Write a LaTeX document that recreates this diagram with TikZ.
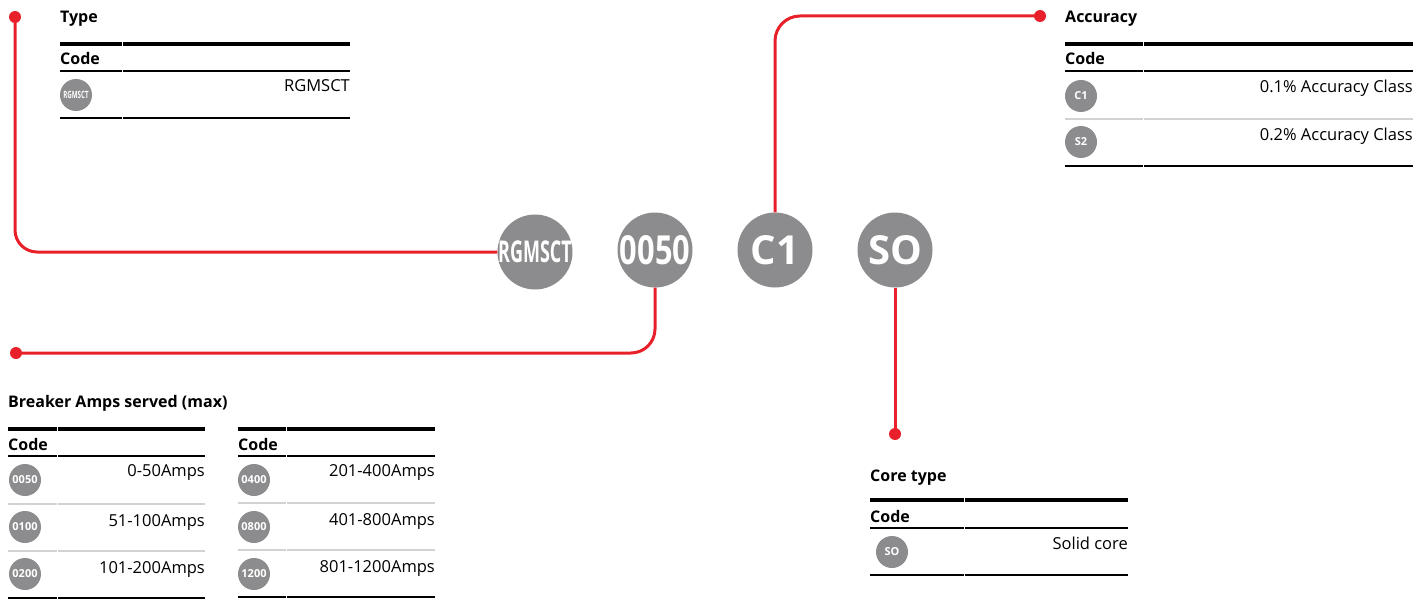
\documentclass[tikz,border=0pt]{standalone}
\usepackage{fontspec}
\usepackage{graphicx}
\setmainfont{Open Sans}
\definecolor{abbred}{HTML}{E8202A}
\definecolor{cgray}{HTML}{8C8C8E}
\definecolor{sepgray}{HTML}{D2D2D2}
\begin{document}
\begin{tikzpicture}[x=1pt,y=-1pt,
  redline/.style={draw=abbred,line width=3pt},
  reddot/.style={circle,fill=abbred,inner sep=0pt,minimum size=12pt},
  bigc/.style={circle,fill=cgray,inner sep=-10pt,minimum size=75pt,text=white,font=\bfseries\fontsize{40}{40}\selectfont},
  smallc/.style={circle,fill=cgray,inner sep=-8pt,minimum size=32pt,text=white,font=\bfseries\fontsize{11}{11}\selectfont},
  ttl/.style={anchor=base west,inner sep=0pt,font=\bfseries\fontsize{16}{16}\selectfont},
  rowtxt/.style={anchor=base east,inner sep=0pt,font=\fontsize{16.5}{16.5}\selectfont},
  thickl/.style={line width=4.5pt},
  midl/.style={line width=2.5pt},
  sepl/.style={draw=sepgray,line width=1.2pt},
  gapl/.style={draw=white,line width=1pt}
]
\useasboundingbox (0,0) rectangle (1426,599);

% big circles
\node[bigc] (cRG) at (535,252) {\scalebox{0.6}[1]{\fontsize{30}{30}\selectfont RGMSCT}};
\node[bigc] (c0050) at (655,250) {\scalebox{0.77}[1]{0050}};
\node[bigc] (cC1) at (775,250) {C1};
\node[bigc] (cSO) at (895,250) {SO};

% dots
\node[reddot] (dA) at (15,17) {};
\node[reddot] (dB) at (16,353) {};
\node[reddot] (dC) at (1040,16) {};
\node[reddot] (dD) at (895,434) {};

% connectors
\draw[redline,rounded corners=22pt] (dA.center) |- (cRG.west);
\draw[redline,rounded corners=24pt] (c0050.south) |- (dB.center);
\draw[redline,rounded corners=25pt] (cC1.north) |- (dC.center);
\draw[redline] (cSO.south) -- (dD.center);

% ---- Type table
\node[ttl] (tType) at (60,23) {Type};
\draw[thickl] (60,44) -- (350,44);
\node[ttl] (tTypeCode) at (60,65) {Code};
\draw[midl] (60,71) -- (350,71);
\node[smallc] (sRG) at (76,95) {\scalebox{0.62}[1]{\fontsize{10}{10}\selectfont RGMSCT}};
\node[rowtxt] (rRG) at (350,92) {RGMSCT};
\draw[midl] (60,118) -- (350,118);
\draw[gapl] (122,41) -- (122,121);

% ---- Accuracy table
\node[ttl] (tAcc) at (1065,23) {Accuracy};
\draw[thickl] (1065,44) -- (1413,44);
\node[ttl] (tAccCode) at (1065,65) {Code};
\draw[midl] (1065,71) -- (1413,71);
\node[smallc] (sC1) at (1081,96) {C1};
\node[rowtxt] (rC1) at (1413,93) {0.1\% Accuracy Class};
\draw[sepl] (1065,119) -- (1413,119);
\node[smallc] (sS2) at (1081,142) {S2};
\node[rowtxt] (rS2) at (1413,140) {0.2\% Accuracy Class};
\draw[midl] (1065,166) -- (1413,166);
\draw[gapl] (1143,41) -- (1143,169);

% ---- Breaker table
\node[ttl] (tBr) at (8,407) {Breaker Amps served (max)};
\draw[thickl] (8,429) -- (205,429);
\node[ttl] (tBrCode1) at (8,450) {Code};
\draw[midl] (8,456) -- (205,456);
\node[smallc] (s0050) at (25,480) {0050};
\node[rowtxt] (r0050) at (205,476) {0-50Amps};
\draw[sepl] (8,504) -- (205,504);
\node[smallc] (s0100) at (25,527) {0100};
\node[rowtxt] (r0100) at (205,526) {51-100Amps};
\draw[sepl] (8,551) -- (205,551);
\node[smallc] (s0200) at (25,574) {0200};
\node[rowtxt] (r0200) at (205,573) {101-200Amps};
\draw[midl] (8,598) -- (205,598);
\draw[gapl] (57,426) -- (57,599);

\draw[thickl] (238,429) -- (435,429);
\node[ttl] (tBrCode2) at (238,450) {Code};
\draw[midl] (238,456) -- (435,456);
\node[smallc] (s0400) at (254,480) {0400};
\node[rowtxt] (r0400) at (435,476) {201-400Amps};
\draw[sepl] (238,503) -- (435,503);
\node[smallc] (s0800) at (254,527) {0800};
\node[rowtxt] (r0800) at (435,525) {401-800Amps};
\draw[sepl] (238,550) -- (435,550);
\node[smallc] (s1200) at (254,574) {1200};
\node[rowtxt] (r1200) at (435,572) {801-1200Amps};
\draw[midl] (238,597) -- (435,597);
\draw[gapl] (286,426) -- (286,599);

% ---- Core type table
\node[ttl] (tCore) at (870,481) {Core type};
\draw[thickl] (870,500) -- (1128,500);
\node[ttl] (tCoreCode) at (870,522) {Code};
\draw[midl] (870,528) -- (1128,528);
\node[smallc] (sSO) at (892,552) {SO};
\node[rowtxt] (rSO) at (1128,549) {Solid core};
\draw[midl] (870,575) -- (1128,575);
\draw[gapl] (964,497) -- (964,578);
\end{tikzpicture}
\end{document}
